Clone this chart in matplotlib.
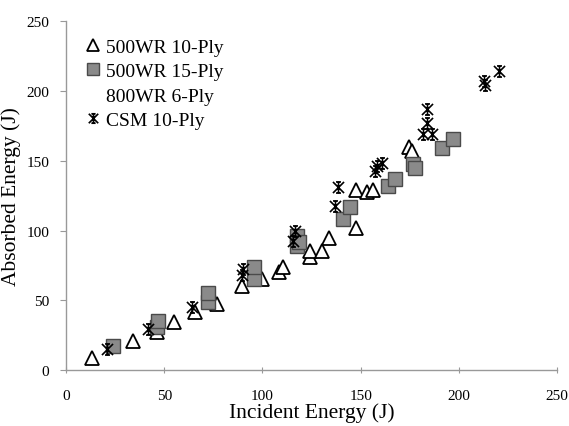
import numpy as np
import matplotlib
matplotlib.use('Agg')
import matplotlib.pyplot as plt
from matplotlib.path import Path

# 500WR 10-Ply (open triangles)
wr10_x = [13.2, 34.3, 46.2, 54.8, 65.7, 76.7, 89.5, 99.6, 108.6, 110.3,
          124.2, 124.2, 130.2, 133.9, 147.7, 147.7, 153.4, 156.2, 174.8, 176.0]
wr10_y = [8.5, 21.0, 27.0, 34.5, 41.3, 47.3, 60.4, 65.2, 70.0, 73.6,
          80.7, 85.5, 85.5, 94.3, 101.5, 129.2, 127.3, 129.2, 159.5, 157.1]

# 500WR 15-Ply (grey squares)
wr15_x = [23.9, 46.5, 47.0, 72.1, 72.1, 95.7, 95.7, 117.5, 117.5, 118.5,
          141.2, 144.6, 164.1, 167.5, 176.8, 177.5, 191.3, 196.9]
wr15_y = [17.2, 31.0, 35.0, 48.7, 55.0, 65.5, 74.0, 89.0, 96.2, 92.0,
          108.2, 116.5, 132.0, 136.8, 147.6, 144.5, 158.8, 165.5]

# 800WR 6-Ply (no visible marks)
wr6_x = []
wr6_y = []

# CSM 10-Ply (asterisks)
csm_x = [20.7, 41.9, 64.0, 90.3, 89.5, 116.6, 115.5, 137.0, 138.6, 158.2,
         160.7, 157.5, 184.0, 184.0, 181.9, 186.2, 212.8, 213.5, 220.6]
csm_y = [15.0, 29.4, 44.9, 72.3, 68.0, 99.8, 92.5, 117.7, 130.9, 146.3,
         148.7, 143.0, 187.0, 177.4, 169.1, 169.1, 207.2, 204.5, 214.4]

plt.rcParams['font.family'] = ['Liberation Serif', 'DejaVu Serif']

# excel-style star: an X with a vertical bar and short caps
star = Path([(-1, -1), (1, 1), (-1, 1), (1, -1), (0, -1), (0, 1),
             (-0.45, 1), (0.45, 1), (-0.45, -1), (0.45, -1)],
            [Path.MOVETO, Path.LINETO] * 5)

fig = plt.figure(figsize=(5.69, 4.27), dpi=100)
ax = fig.add_axes([0.116, 0.131, 0.863, 0.817])

ax.plot(wr10_x, wr10_y, linestyle='none', marker='^', markersize=10,
        markerfacecolor='white', markeredgecolor='black', markeredgewidth=1.3,
        label='500WR 10-Ply')
ax.plot(wr15_x, wr15_y, linestyle='none', marker='s', markersize=10,
        markerfacecolor='#8a8a8a', markeredgecolor='#4a4a4a', markeredgewidth=1.0,
        label='500WR 15-Ply')
ax.plot(wr6_x, wr6_y, linestyle='none', marker='None', label='800WR 6-Ply')
ax.plot(csm_x, csm_y, linestyle='none', marker=star, markersize=8,
        markerfacecolor='none', markeredgecolor='black', markeredgewidth=1.2,
        label='CSM 10-Ply')

ax.set_xlim(0, 250)
ax.set_ylim(0, 250)
ax.set_xticks(np.arange(0, 251, 50))
ax.set_yticks(np.arange(0, 251, 50))

for s in ['top', 'right']:
    ax.spines[s].set_visible(False)
for s in ['left', 'bottom']:
    ax.spines[s].set_color('#999999')
    ax.spines[s].set_linewidth(1.0)

ax.tick_params(axis='x', direction='inout', length=5, color='#999999',
               labelsize=11, pad=11)
ax.tick_params(axis='y', direction='out', length=4, color='#999999',
               labelsize=11, pad=8)

ax.set_xlabel('Incident Energy (J)', fontsize=15.5, labelpad=0)
ax.set_ylabel('Absorbed Energy (J)', fontsize=15.5, labelpad=4)

ax.legend(loc='upper left', frameon=False, fontsize=14, handlelength=0.7,
          handletextpad=0.3, labelspacing=0.35, borderaxespad=0.2,
          markerscale=0.85, bbox_to_anchor=(0.018, 0.985))

fig.savefig('out.png', dpi=100)
